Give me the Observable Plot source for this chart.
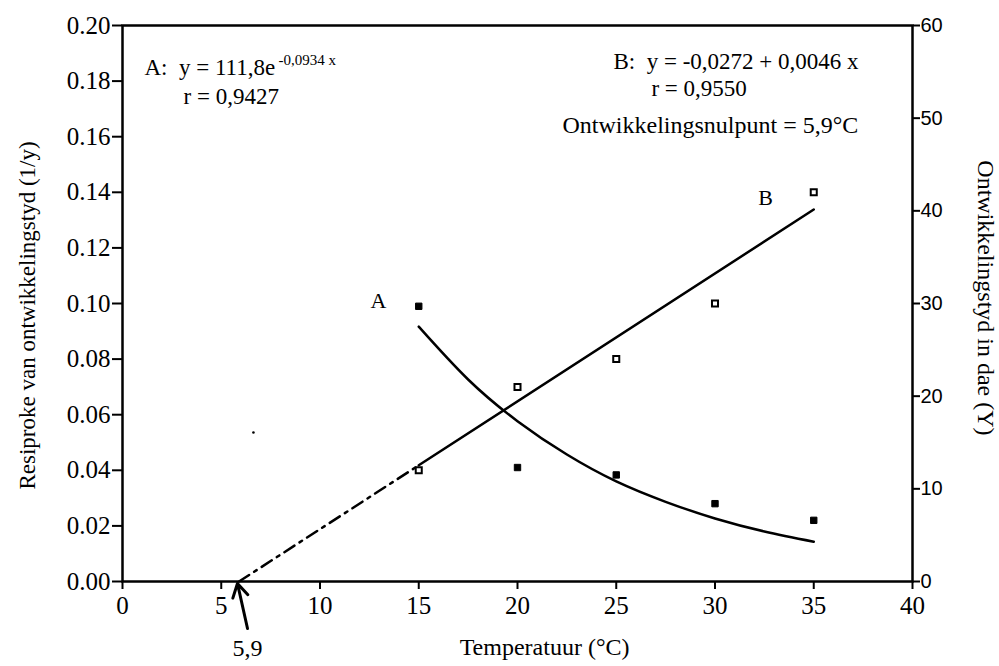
<!DOCTYPE html>
<html>
<head>
<meta charset="utf-8">
<script src="https://cdn.jsdelivr.net/npm/d3@7"></script>
<script src="https://cdn.jsdelivr.net/npm/@observablehq/plot@0.6"></script>
<style>
  html, body { margin: 0; padding: 0; background: white; }
</style>
</head>
<body>
<div id="chart"></div>
<script>
// Temperature ticks
const xTicks = [0, 5, 10, 15, 20, 25, 30, 35, 40];
// Left axis ticks (1/days)
const yTicks = [0, 0.02, 0.04, 0.06, 0.08, 0.10, 0.12, 0.14, 0.16, 0.18, 0.20];
// Right axis ticks (days)
const dayTicks = [0, 10, 20, 30, 40, 50, 60];
const daysPerUnit = 300; // 60 days == 0.20

// Series A: development time in days (filled squares)
const tempA = [15, 20, 25, 30, 35];
const daysA = [29.7, 12.3, 11.5, 8.4, 6.6];
// Fitted curve A (days)
const curveAx = [15, 17.5, 20, 22.5, 25, 27.5, 30, 32.5, 35];
const curveAdays = [27.5, 21.8, 17.3, 13.7, 10.8, 8.6, 6.8, 5.4, 4.3];

// Series B: reciprocal development time (open squares)
const tempB = [15, 20, 25, 30, 35];
const rateB = [0.040, 0.070, 0.080, 0.100, 0.140];
// Fitted line B (solid) and its extrapolation (dash-dot)
const lineBx = [15, 35];
const lineBy = [0.0418, 0.1338];
const extBx = [5.9, 15];
const extBy = [0, 0.0418];

const ptsA = tempA.map((t, i) => ({x: t, y: daysA[i] / daysPerUnit}));
const ptsB = tempB.map((t, i) => ({x: t, y: rateB[i]}));
const curA = curveAx.map((t, i) => ({x: t, y: curveAdays[i] / daysPerUnit}));
const linB = lineBx.map((t, i) => ({x: t, y: lineBy[i]}));
const extB = extBx.map((t, i) => ({x: t, y: extBy[i]}));

const serif = "Liberation Serif";
const sans = "Liberation Sans";

const chart = Plot.plot({
  width: 999,
  height: 666,
  marginLeft: 122,
  marginRight: 87,
  marginTop: 25,
  marginBottom: 85,
  x: {domain: [0, 40]},
  y: {domain: [0, 0.2]},
  style: {fontFamily: serif, fontSize: "24px", background: "white", color: "black", overflow: "visible"},
  marks: [
    Plot.frame({stroke: "black", strokeWidth: 2.5}),
    Plot.axisX({ticks: xTicks, tickSize: 8, tickPadding: 7, label: null, fontSize: 25, fontFamily: serif, strokeWidth: 2}),
    Plot.axisY({ticks: yTicks, tickFormat: d3.format(".2f"), tickSize: 10, tickPadding: 2, label: null, fontSize: 25, fontFamily: serif, strokeWidth: 2}),
    Plot.axisY({anchor: "right", ticks: dayTicks.map(d => d / daysPerUnit), tickFormat: d => String(Math.round(d * daysPerUnit)),
      tickSize: 7, tickPadding: 1, label: null, fontFamily: sans, fontSize: 20, strokeWidth: 2}),
    // extrapolation dash-dot
    Plot.line(extB, {x: "x", y: "y", stroke: "black", strokeWidth: 2.5, strokeDasharray: "12,6,3,6"}),
    Plot.line(linB, {x: "x", y: "y", stroke: "black", strokeWidth: 2.5}),
    Plot.line(curA, {x: "x", y: "y", stroke: "black", strokeWidth: 2.5, curve: "natural"}),
    Plot.dot(ptsA, {x: "x", y: "y", symbol: "square", r: 3.6, fill: "black", stroke: "black", strokeWidth: 1}),
    Plot.dot(ptsB, {x: "x", y: "y", symbol: "square", r: 3.4, fill: "white", stroke: "black", strokeWidth: 2}),
    // stray speck
    Plot.dot([{x: 6.63, y: 0.0536}], {x: "x", y: "y", r: 1.3, fill: "black", stroke: null}),
    // series labels
    Plot.text(["A"], {x: 12.96, y: 0.101, fontSize: 22, fontFamily: serif}),
    Plot.text(["B"], {x: 32.56, y: 0.1378, fontSize: 22, fontFamily: serif}),
    // equations
    Plot.text(["A:  y = 111,8e"], {x: 1.11, y: 0.1849, textAnchor: "start", fontSize: 23, fontFamily: serif}),
    Plot.text(["-0,0934 x"], {x: 7.9, y: 0.1874, textAnchor: "start", fontSize: 15, fontFamily: serif}),
    Plot.text(["r = 0,9427"], {x: 3.09, y: 0.1745, textAnchor: "start", fontSize: 23, fontFamily: serif}),
    Plot.text(["B:  y = -0,0272 + 0,0046 x"], {x: 24.86, y: 0.1871, textAnchor: "start", fontSize: 23, fontFamily: serif}),
    Plot.text(["r = 0,9550"], {x: 26.78, y: 0.1773, textAnchor: "start", fontSize: 23, fontFamily: serif}),
    Plot.text(["Ontwikkelingsnulpunt = 5,9°C"], {x: 22.28, y: 0.164, textAnchor: "start", fontSize: 24, fontFamily: serif}),
    // arrow to zero point
    Plot.arrow([{x1: 6.33, y1: -0.0169, x2: 5.82, y2: -0.0007}], {x1: "x1", y1: "y1", x2: "x2", y2: "y2", stroke: "black", strokeWidth: 3, headLength: 12, clip: false}),
    Plot.text(["5,9"], {x: 6.33, y: -0.0241, fontSize: 24, fontFamily: serif, clip: false}),
    // axis titles
    Plot.text(["Temperatuur (°C)"], {x: 21.37, y: -0.0237, fontSize: 24, fontFamily: serif}),
    Plot.text(["Resiproke van ontwikkelingstyd (1/y)"], {x: -4.81, y: 0.0957, rotate: -90, fontSize: 23, fontFamily: serif}),
    Plot.text(["Ontwikkelingstyd in dae (Y)"], {x: 43.7, y: 0.102, rotate: 90, fontSize: 24, fontFamily: serif})
  ]
});
document.getElementById("chart").appendChild(chart);
</script>
</body>
</html>
